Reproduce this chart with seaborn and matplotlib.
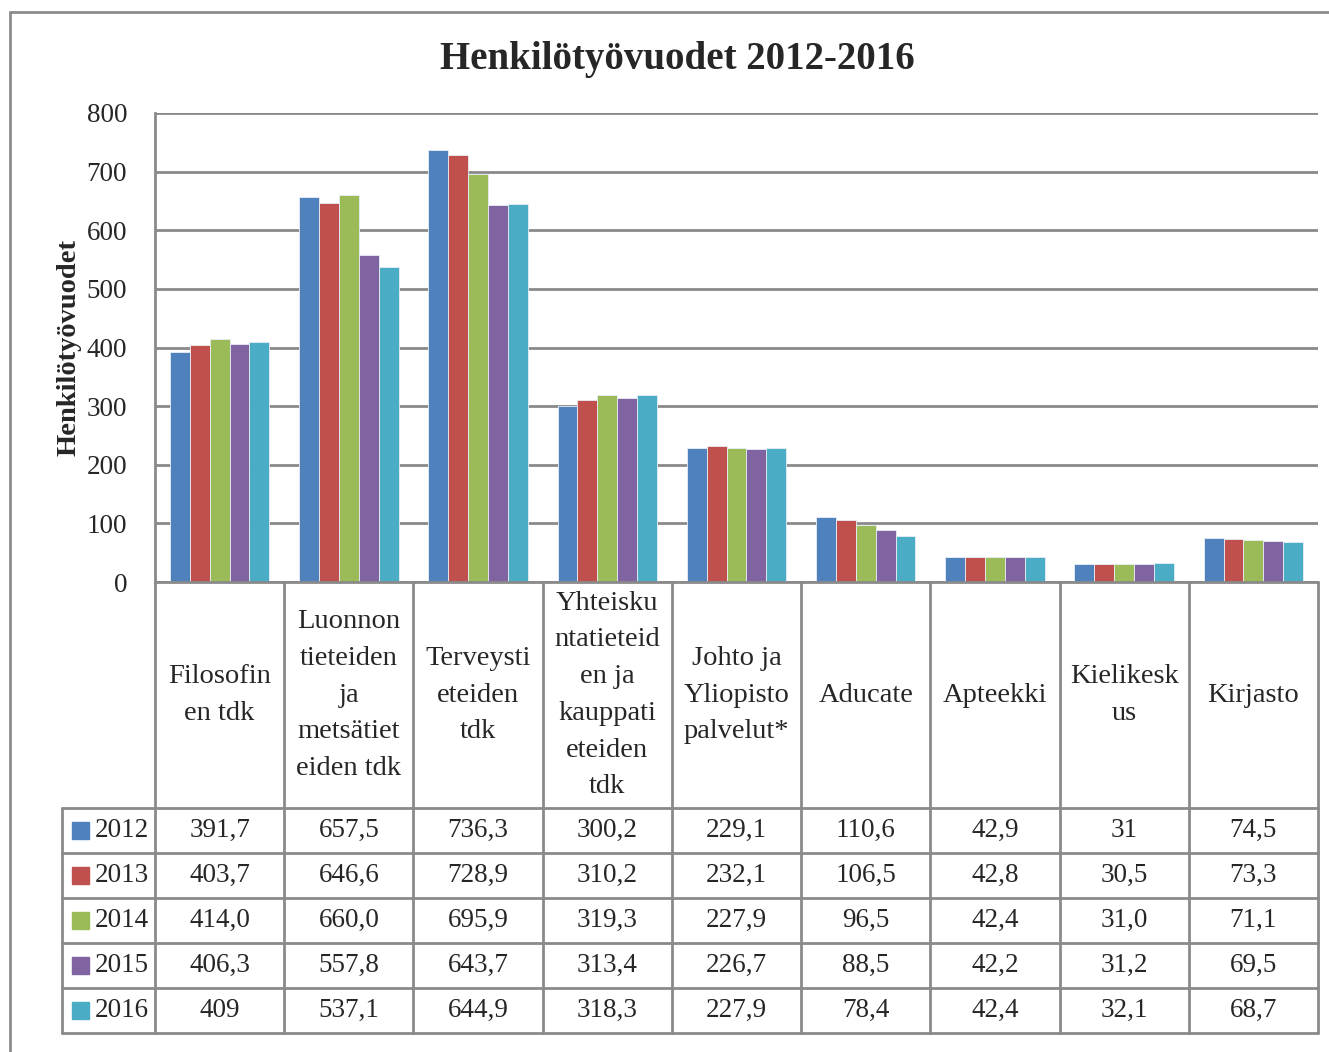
import seaborn as sns
import matplotlib.pyplot as plt
import pandas as pd
from matplotlib.patches import Rectangle

# Tiedot (luettu taulukosta)
categories = [
    "Filosofin\nen tdk",
    "Luonnon\ntieteiden\nja\nmetsätiet\neiden tdk",
    "Terveysti\neteiden\ntdk",
    "Yhteisku\nntatieteid\nen ja\nkauppati\neteiden\ntdk",
    "Johto ja\nYliopisto\npalvelut*",
    "Aducate",
    "Apteekki",
    "Kielikesk\nus",
    "Kirjasto",
]
years = ["2012", "2013", "2014", "2015", "2016"]
v2012 = ["391,7", "657,5", "736,3", "300,2", "229,1", "110,6", "42,9", "31", "74,5"]
v2013 = ["403,7", "646,6", "728,9", "310,2", "232,1", "106,5", "42,8", "30,5", "73,3"]
v2014 = ["414,0", "660,0", "695,9", "319,3", "227,9", "96,5", "42,4", "31,0", "71,1"]
v2015 = ["406,3", "557,8", "643,7", "313,4", "226,7", "88,5", "42,2", "31,2", "69,5"]
v2016 = ["409", "537,1", "644,9", "318,3", "227,9", "78,4", "42,4", "32,1", "68,7"]
colors = ["#4F81BD", "#C0504D", "#9BBB59", "#8064A2", "#4BACC6"]

table_rows = [v2012, v2013, v2014, v2015, v2016]

rows = []
for year, vals in zip(years, table_rows):
    for cat, s in zip(categories, vals):
        rows.append({"cat": cat, "year": year, "value": float(s.replace(",", "."))})
df = pd.DataFrame(rows)

sns.set_style("white")
plt.rcParams["font.family"] = ["Liberation Serif", "DejaVu Serif"]

W, H = 1329, 1052
fig = plt.figure(figsize=(W / 100, H / 100), dpi=100)

# Akselien paikat pikseleinä
x0, x1 = 155, 1318
y_top, y_zero, y_end = 113, 582, 1033
ax = fig.add_axes([x0 / W, 1 - y_zero / H, (x1 - x0) / W, (y_zero - y_top) / H])

grid_c = "#8a8a8a"

sns.barplot(
    data=df, x="cat", y="value", hue="year", order=categories, hue_order=years,
    palette=colors, saturation=1, width=0.77, gap=0, ax=ax, legend=False,
    edgecolor="#e8eef5", linewidth=0.6, zorder=3,
)

ax.set_xlim(-0.5, len(categories) - 0.5)
ax.set_ylim(0, 800)
ax.set_yticks(range(0, 801, 100))
ax.set_xticks([])
ax.set_xlabel("")
ax.set_ylabel("Henkilötyövuodet", fontsize=20.5, fontweight="bold", labelpad=4)
ax.tick_params(axis="y", length=0, pad=20, labelsize=19.5)
ax.yaxis.grid(True, color=grid_c, linewidth=2)
ax.set_axisbelow(True)
for side in ["top", "right", "bottom"]:
    ax.spines[side].set_visible(False)
ax.spines["left"].set_color(grid_c)
ax.spines["left"].set_linewidth(2)

fig.suptitle("Henkilötyövuodet 2012-2016", x=677 / W, y=1 - 60 / H, va="center",
             fontsize=28, fontweight="bold")

# Datataulukko
xl = 62
cw = (x1 - x0) / len(categories)
left_u = -0.5 - (x0 - xl) / cw
tab = fig.add_axes([xl / W, 1 - y_end / H, (x1 - xl) / W, (y_end - y_zero) / H])
tab.set_xlim(left_u, len(categories) - 0.5)
tab.set_ylim(y_end - y_zero, 0)
tab.axis("off")

head_h = 226
row_h = 45
lw = 2
tab.plot([-0.5, len(categories) - 0.5], [0, 0], color=grid_c, lw=lw, clip_on=False)
for i in range(len(years) + 1):
    yy = head_h + i * row_h
    tab.plot([left_u, len(categories) - 0.5], [yy, yy], color=grid_c, lw=lw, clip_on=False)
for j in range(len(categories) + 1):
    xx = -0.5 + j
    tab.plot([xx, xx], [0, head_h + len(years) * row_h], color=grid_c, lw=lw, clip_on=False)
tab.plot([left_u, left_u], [head_h, head_h + len(years) * row_h], color=grid_c, lw=lw, clip_on=False)

for j, cat in enumerate(categories):
    tab.text(j, head_h / 2, cat, ha="center", va="center", fontsize=20.5,
             linespacing=1.62)

key_w = 17 / cw
for i, (year, vals, c) in enumerate(zip(years, table_rows, colors)):
    yc = head_h + (i + 0.5) * row_h
    kx = -0.5 - (x0 - 72) / cw
    tab.add_patch(Rectangle((kx, yc - 8.5), key_w, 17, color=c, clip_on=False))
    tab.text(-0.5 - (x0 - 95) / cw, yc, year, ha="left", va="center", fontsize=19.5)
    for j, s in enumerate(vals):
        tab.text(j, yc, s, ha="center", va="center", fontsize=19.5)

# Kaavion reunus
fig.add_artist(plt.Line2D([10 / W, 1.0], [1 - 12 / H, 1 - 12 / H], color="#8c8c8c", lw=2))
fig.add_artist(plt.Line2D([10 / W, 10 / W], [1 - 12 / H, 0], color="#8c8c8c", lw=2))

fig.savefig("out.png", dpi=100)
